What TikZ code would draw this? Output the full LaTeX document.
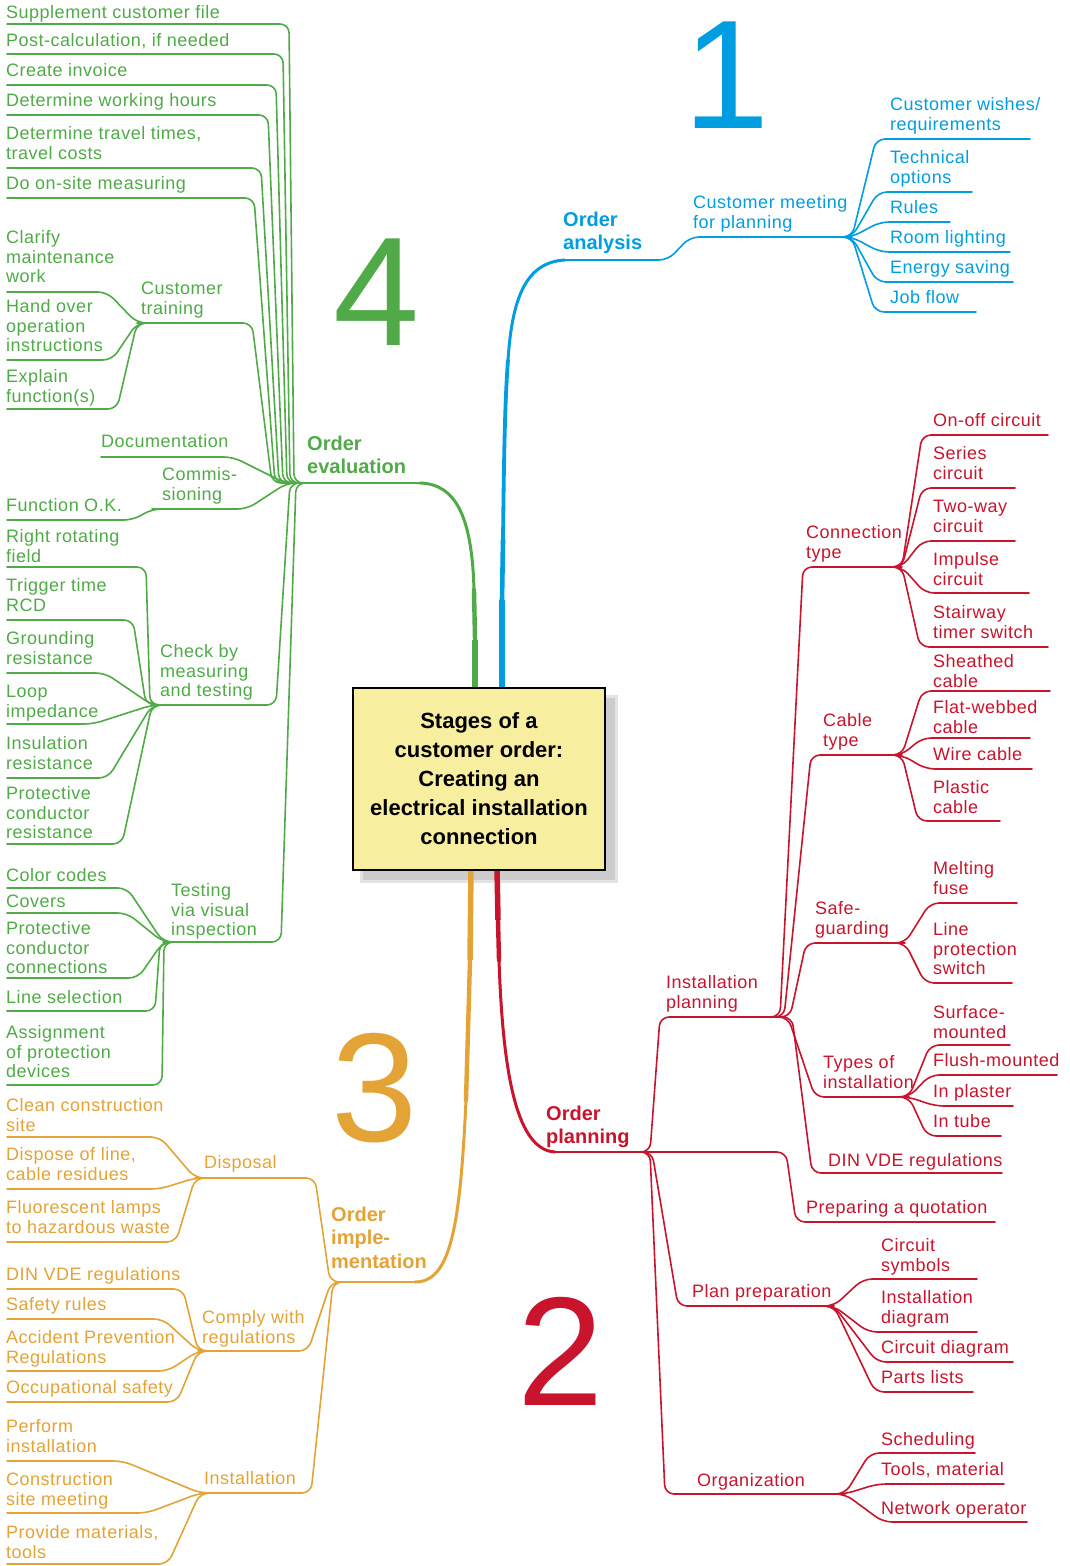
\documentclass[tikz,border=0pt]{standalone}
\usepackage{fontspec}
\setmainfont{Liberation Sans}
\newfontfamily\lblf[LetterSpace=2.8]{Liberation Sans}
\usetikzlibrary{calc}
\definecolor{cB}{RGB}{0,158,224}
\definecolor{cG}{RGB}{80,170,72}
\definecolor{cO}{RGB}{228,163,55}
\definecolor{cR}{RGB}{200,20,45}
\definecolor{cY}{RGB}{248,238,160}
\tikzset{
 lbl/.style={anchor=north west, inner sep=0pt, align=left, font=\lblf\fontsize{18}{19.5}\selectfont},
 blbl/.style={anchor=north west, inner sep=0pt, align=left, font=\bfseries\fontsize{20}{23.5}\selectfont},
 br/.style={line width=1.6pt, rounded corners=9pt, line join=round, line cap=round},
 big/.style={anchor=base west, inner sep=0pt, font=\fontsize{155}{155}\selectfont},
}
\newcommand\lab[5]{\node[lbl,text=#1] (#2) at (#3,#4-7.5) {\rule{0pt}{14pt}#5};}
\newcommand\blab[5]{\node[blbl,text=#1] (#2) at (#3,#4-8.8) {\rule{0pt}{16pt}#5};}
\begin{document}
\begin{tikzpicture}[x=1pt,y=-1pt]
\useasboundingbox (0,0) rectangle (1069,1566);
\fill[white] (0,0) rectangle (1069,1566);

% ---------- big numbers
\node[big,text=cB] (n1) at (683,128) {1};
\node[big,text=cG] (n4) at (333,345) {4};
\node[big,text=cO] (n3) at (331,1141) {3};
\node[big,text=cR] (n2) at (517,1405) {2};

% ---------- junction coordinates
\coordinate (Jb) at (852,237);
\coordinate (Jg) at (300,483);
\coordinate (Jct) at (137,323);
\coordinate (Jcom) at (152,509);
\coordinate (Jcm) at (152,705);
\coordinate (Jtv) at (163,942);
\coordinate (Jo) at (335,1282);
\coordinate (Jd) at (195,1178);
\coordinate (Jcr) at (198,1351);
\coordinate (Jin) at (200,1493);
\coordinate (Jr) at (646,1152);
\coordinate (Jip) at (776,1017);
\coordinate (Jconn) at (902,567);
\coordinate (Jcab) at (902,755);
\coordinate (Jsg) at (905,943);
\coordinate (Jti) at (909,1097);
\coordinate (Jpp) at (834,1306);
\coordinate (Jorg) at (845,1494);

% ---------- shadow of the hub
\fill[gray!22] (360,695) rectangle (618,883);
\fill[gray!40] (363,698) rectangle (615,880);

% ---------- trunks
% blue
\draw[cB,line width=5.5pt] (502,690) -- (502,600);
\draw[cB,line width=4.6pt,line cap=round] (502,600) -- (503,540);
\draw[cB,line width=3.8pt,line cap=round] (503,540) .. controls (504,450) and (505,400) .. (508,360);
\draw[cB,line width=3pt,line cap=round] (508,360) .. controls (512,300) and (525,262) .. (565,260);
\draw[cB,br] (560,260) -- (668,260) -- (690,237) -- (Jb);
% green
\draw[cG,line width=5.5pt] (475,690) -- (475,640);
\draw[cG,line width=4.4pt,line cap=round] (475,640) -- (474,590);
\draw[cG,line width=3pt,line cap=round] (474,590) .. controls (472,515) and (455,484) .. (420,483);
\draw[cG,br] (422,483) -- (Jg);
% orange
\draw[cO,line width=5.5pt] (471,868) -- (470,960);
\draw[cO,line width=4.4pt,line cap=round] (470,960) -- (466,1100);
\draw[cO,line width=3pt,line cap=round] (466,1100) .. controls (460,1230) and (450,1282) .. (415,1282);
\draw[cO,br] (417,1282) -- (Jo);
% red
\draw[cR,line width=5.5pt] (497,868) -- (498,920);
\draw[cR,line width=4.4pt,line cap=round] (498,920) -- (499,960);
\draw[cR,line width=3pt,line cap=round] (499,960) .. controls (503,1080) and (518,1150) .. (555,1152);
\draw[cR,br] (553,1152) -- (Jr);

% ---------- hub
\node[draw=black, line width=1.2pt, fill=cY, minimum width=252pt, minimum height=182pt,
      inner sep=0pt, align=center, font=\bfseries\fontsize{22}{29}\selectfont] (hub) at (479,779)
      {Stages of a\\customer order:\\Creating an\\electrical installation\\connection};

% ================= BLUE =================
\blab{cB}{bmain}{563}{219}{Order\\analysis}
\lab{cB}{bmeet}{693}{202}{Customer meeting\\for planning}
\lab{cB}{b1}{890}{104}{Customer wishes/\\requirements}
\lab{cB}{b2}{890}{157}{Technical\\options}
\lab{cB}{b3}{890}{207}{Rules}
\lab{cB}{b4}{890}{237}{Room lighting}
\lab{cB}{b5}{890}{267}{Energy saving}
\lab{cB}{b6}{890}{297}{Job flow}
\draw[cB,br] ($(Jb)+(-18,0)$) -- (Jb) -- (876,139) -- (1030,139);
\draw[cB,br] ($(Jb)+(-18,0)$) -- (Jb) -- (878,192) -- (972,192);
\draw[cB,br] ($(Jb)+(-18,0)$) -- (Jb) -- (880,222) -- (950,222);
\draw[cB,br] ($(Jb)+(-18,0)$) -- (Jb) -- (880,252) -- (1010,252);
\draw[cB,br] ($(Jb)+(-18,0)$) -- (Jb) -- (877,282) -- (1013,282);
\draw[cB,br] ($(Jb)+(-18,0)$) -- (Jb) -- (875,312) -- (976,312);

% ================= GREEN =================
\blab{cG}{gmain}{307}{443}{Order\\evaluation}
\lab{cG}{g1}{6}{12}{Supplement customer file}
\lab{cG}{g2}{6}{40}{Post-calculation, if needed}
\lab{cG}{g3}{6}{70}{Create invoice}
\lab{cG}{g4}{6}{100}{Determine working hours}
\lab{cG}{g5}{6}{133}{Determine travel times,\\travel costs}
\lab{cG}{g6}{6}{183}{Do on-site measuring}
\lab{cG}{g7}{6}{237}{Clarify\\maintenance\\work}
\lab{cG}{g8}{6}{306}{Hand over\\operation\\instructions}
\lab{cG}{g9}{6}{376}{Explain\\function(s)}
\lab{cG}{gct}{141}{288}{Customer\\training}
\lab{cG}{gdoc}{101}{441}{Documentation}
\lab{cG}{gcom}{162}{474}{Commis-\\sioning}
\lab{cG}{g10}{6}{505}{Function O.K.}
\lab{cG}{g11}{6}{536}{Right rotating\\field}
\lab{cG}{g12}{6}{585}{Trigger time\\RCD}
\lab{cG}{g13}{6}{638}{Grounding\\resistance}
\lab{cG}{g14}{6}{691}{Loop\\impedance}
\lab{cG}{g15}{6}{743}{Insulation\\resistance}
\lab{cG}{g16}{6}{793}{Protective\\conductor\\resistance}
\lab{cG}{gcm}{160}{651}{Check by\\measuring\\and testing}
\lab{cG}{g17}{6}{875}{Color codes}
\lab{cG}{g18}{6}{901}{Covers}
\lab{cG}{g19}{6}{928}{Protective\\conductor\\connections}
\lab{cG}{g20}{6}{997}{Line selection}
\lab{cG}{g21}{6}{1032}{Assignment\\of protection\\devices}
\lab{cG}{gtv}{171}{890}{Testing\\via visual\\inspection}
% bundle into Order evaluation
\draw[cG,br] (7,24) -- (289,24) -- (294,483) -- ($(Jg)+(18,0)$);
\draw[cG,br] (7,54) -- (283,54) -- (290,483) -- ($(Jg)+(18,0)$);
\draw[cG,br] (7,85) -- (276,85) -- (287,483) -- ($(Jg)+(18,0)$);
\draw[cG,br] (7,115) -- (268,115) -- (283,483) -- ($(Jg)+(18,0)$);
\draw[cG,br] (7,168) -- (261,168) -- (279,483) -- ($(Jg)+(18,0)$);
\draw[cG,br] (7,198) -- (254,198) -- (275,483) -- ($(Jg)+(18,0)$);
\draw[cG,br] (Jct) -- (252,323) -- (272,483) -- ($(Jg)+(18,0)$);
\draw[cG,br] (101,457) -- (233,457) -- (285,483) -- ($(Jg)+(18,0)$);
\draw[cG,br] ($(Jg)+(18,0)$) -- (287,483) -- (247,509) -- (Jcom);
\draw[cG,br] ($(Jg)+(18,0)$) -- (290,483) -- (276,705) -- (Jcm);
\draw[cG,br] ($(Jg)+(18,0)$) -- (296,483) -- (281,942) -- (Jtv);
% customer training leaves
\draw[cG,br] (7,292) -- (107,292) -- (Jct) -- ++(18,0);
\draw[cG,br] (7,360) -- (112,360) -- (Jct) -- ++(18,0);
\draw[cG,br] (7,409) -- (117,409) -- (Jct) -- ++(18,0);
% commissioning leaf
\draw[cG,br] (7,520) -- (133,520) -- (Jcom) -- ++(20,0);
% check by measuring leaves
\draw[cG,br] (7,567) -- (146,567) -- (150,705) -- ($(Jcm)+(18,0)$);
\draw[cG,br] (7,620) -- (133,620) -- (146,705) -- ($(Jcm)+(18,0)$);
\draw[cG,br] (7,673) -- (105,673) -- (Jcm) -- ++(18,0);
\draw[cG,br] (7,724) -- (93,724) -- (Jcm) -- ++(18,0);
\draw[cG,br] (7,778) -- (108,778) -- (Jcm) -- ++(18,0);
\draw[cG,br] (7,844) -- (122,844) -- (Jcm) -- ++(18,0);
% testing via visual leaves
\draw[cG,br] (7,888) -- (127,888) -- (Jtv) -- ++(18,0);
\draw[cG,br] (7,913) -- (127,913) -- (Jtv) -- ++(18,0);
\draw[cG,br] (7,978) -- (138,978) -- (Jtv) -- ++(18,0);
\draw[cG,br] (7,1011) -- (155,1011) -- (160,942) -- ($(Jtv)+(18,0)$);
\draw[cG,br] (7,1085) -- (162,1085) -- (164,942) -- ($(Jtv)+(18,0)$);

% ================= ORANGE =================
\blab{cO}{omain}{331}{1214}{Order\\imple-\\mentation}
\lab{cO}{o1}{6}{1105}{Clean construction\\site}
\lab{cO}{o2}{6}{1154}{Dispose of line,\\cable residues}
\lab{cO}{o3}{6}{1207}{Fluorescent lamps\\to hazardous waste}
\lab{cO}{odis}{204}{1162}{Disposal}
\lab{cO}{o4}{6}{1274}{DIN VDE regulations}
\lab{cO}{o5}{6}{1304}{Safety rules}
\lab{cO}{o6}{6}{1337}{Accident Prevention\\Regulations}
\lab{cO}{o7}{6}{1387}{Occupational safety}
\lab{cO}{ocr}{202}{1317}{Comply with\\regulations}
\lab{cO}{o8}{6}{1426}{Perform\\installation}
\lab{cO}{o9}{6}{1479}{Construction\\site meeting}
\lab{cO}{o10}{6}{1532}{Provide materials,\\tools}
\lab{cO}{oin}{204}{1478}{Installation}
\draw[cO,br] ($(Jo)+(15,0)$) -- (330,1282) -- (315,1178) -- (Jd);
\draw[cO,br] ($(Jo)+(15,0)$) -- (331,1282) -- (308,1351) -- (Jcr);
\draw[cO,br] ($(Jo)+(15,0)$) -- (333,1282) -- (311,1493) -- (Jin);
\draw[cO,br] (7,1137) -- (160,1137) -- (Jd) -- ++(18,0);
\draw[cO,br] (7,1189) -- (160,1189) -- (Jd) -- ++(18,0);
\draw[cO,br] (7,1242) -- (176,1242) -- (Jd) -- ++(18,0);
\draw[cO,br] (7,1289) -- (183,1289) -- (Jcr) -- ++(18,0);
\draw[cO,br] (7,1319) -- (163,1319) -- (Jcr) -- ++(18,0);
\draw[cO,br] (7,1371) -- (168,1371) -- (Jcr) -- ++(18,0);
\draw[cO,br] (7,1402) -- (177,1402) -- (Jcr) -- ++(18,0);
\draw[cO,br] (7,1461) -- (123,1461) -- (Jin) -- ++(18,0);
\draw[cO,br] (7,1513) -- (147,1513) -- (Jin) -- ++(18,0);
\draw[cO,br] (7,1564) -- (168,1564) -- (Jin) -- ++(18,0);

% ================= RED =================
\blab{cR}{rmain}{546}{1113}{Order\\planning}
\lab{cR}{rip}{666}{982}{Installation\\planning}
\lab{cR}{rpq}{806}{1207}{Preparing a quotation}
\lab{cR}{rpp}{692}{1291}{Plan preparation}
\lab{cR}{rorg}{697}{1480}{Organization}
\lab{cR}{rconn}{806}{532}{Connection\\type}
\lab{cR}{rcab}{823}{720}{Cable\\type}
\lab{cR}{rsg}{815}{908}{Safe-\\guarding}
\lab{cR}{rti}{823}{1062}{Types of\\installation}
\lab{cR}{rdin}{828}{1160}{DIN VDE regulations}
\lab{cR}{r1}{933}{420}{On-off circuit}
\lab{cR}{r2}{933}{453}{Series\\circuit}
\lab{cR}{r3}{933}{506}{Two-way\\circuit}
\lab{cR}{r4}{933}{559}{Impulse\\circuit}
\lab{cR}{r5}{933}{612}{Stairway\\timer switch}
\lab{cR}{r6}{933}{661}{Sheathed\\cable}
\lab{cR}{r7}{933}{707}{Flat-webbed\\cable}
\lab{cR}{r8}{933}{754}{Wire cable}
\lab{cR}{r9}{933}{787}{Plastic\\cable}
\lab{cR}{r10}{933}{868}{Melting\\fuse}
\lab{cR}{r11}{933}{929}{Line\\protection\\switch}
\lab{cR}{r12}{933}{1012}{Surface-\\mounted}
\lab{cR}{r13}{933}{1060}{Flush-mounted}
\lab{cR}{r14}{933}{1091}{In plaster}
\lab{cR}{r15}{933}{1121}{In tube}
\lab{cR}{r16}{881}{1245}{Circuit\\symbols}
\lab{cR}{r17}{881}{1297}{Installation\\diagram}
\lab{cR}{r18}{881}{1347}{Circuit diagram}
\lab{cR}{r19}{881}{1377}{Parts lists}
\lab{cR}{r20}{881}{1439}{Scheduling}
\lab{cR}{r21}{881}{1469}{Tools, material}
\lab{cR}{r22}{881}{1508}{Network operator}
% main red branches
\draw[cR,br] ($(Jr)+(-18,0)$) -- (650,1152) -- (660,1017) -- (Jip);
\draw[cR,br] ($(Jr)+(-18,0)$) -- (786,1152) -- (796,1222) -- (995,1222);
\draw[cR,br] ($(Jr)+(-18,0)$) -- (652,1152) -- (678,1306) -- (Jpp);
\draw[cR,br] ($(Jr)+(-18,0)$) -- (650,1152) -- (665,1494) -- (Jorg);
% installation planning branches
\draw[cR,br] ($(Jip)+(-18,0)$) -- (780,1017) -- (803,567) -- (Jconn);
\draw[cR,br] ($(Jip)+(-18,0)$) -- (784,1017) -- (811,755) -- (Jcab);
\draw[cR,br] ($(Jip)+(-18,0)$) -- (790,1017) -- (806,943) -- (Jsg);
\draw[cR,br] ($(Jip)+(-18,0)$) -- (788,1017) -- (815,1097) -- (Jti);
\draw[cR,br] ($(Jip)+(-18,0)$) -- (792,1017) -- (812,1173) -- (1002,1173);
% connection type leaves
\draw[cR,br] ($(Jconn)+(-18,0)$) -- (Jconn) -- (922,435) -- (1048,435);
\draw[cR,br] ($(Jconn)+(-18,0)$) -- (Jconn) -- (922,488) -- (1015,488);
\draw[cR,br] ($(Jconn)+(-18,0)$) -- (Jconn) -- (922,541) -- (1015,541);
\draw[cR,br] ($(Jconn)+(-18,0)$) -- (Jconn) -- (925,593) -- (1029,593);
\draw[cR,br] ($(Jconn)+(-18,0)$) -- (Jconn) -- (920,647) -- (1048,647);
% cable type leaves
\draw[cR,br] ($(Jcab)+(-18,0)$) -- (Jcab) -- (922,691) -- (1050,691);
\draw[cR,br] ($(Jcab)+(-18,0)$) -- (Jcab) -- (922,738) -- (1030,738);
\draw[cR,br] ($(Jcab)+(-18,0)$) -- (Jcab) -- (926,769) -- (1032,769);
\draw[cR,br] ($(Jcab)+(-18,0)$) -- (Jcab) -- (918,821) -- (1000,821);
% safe-guarding leaves
\draw[cR,br] ($(Jsg)+(-18,0)$) -- (Jsg) -- (930,903) -- (1017,903);
\draw[cR,br] ($(Jsg)+(-18,0)$) -- (Jsg) -- (925,983) -- (1012,983);
% types of installation leaves
\draw[cR,br] ($(Jti)+(-18,0)$) -- (Jti) -- (930,1045) -- (1010,1045);
\draw[cR,br] ($(Jti)+(-18,0)$) -- (Jti) -- (930,1075) -- (1057,1075);
\draw[cR,br] ($(Jti)+(-18,0)$) -- (Jti) -- (935,1106) -- (1013,1106);
\draw[cR,br] ($(Jti)+(-18,0)$) -- (Jti) -- (927,1136) -- (1001,1136);
% plan preparation leaves
\draw[cR,br] ($(Jpp)+(-18,0)$) -- (Jpp) -- (863,1279) -- (977,1279);
\draw[cR,br] ($(Jpp)+(-18,0)$) -- (Jpp) -- (868,1332) -- (977,1332);
\draw[cR,br] ($(Jpp)+(-18,0)$) -- (Jpp) -- (877,1362) -- (1013,1362);
\draw[cR,br] ($(Jpp)+(-18,0)$) -- (Jpp) -- (875,1392) -- (973,1392);
% organization leaves
\draw[cR,br] ($(Jorg)+(-18,0)$) -- (Jorg) -- (870,1453) -- (975,1453);
\draw[cR,br] ($(Jorg)+(-18,0)$) -- (Jorg) -- (877,1484) -- (1004,1484);
\draw[cR,br] ($(Jorg)+(-18,0)$) -- (Jorg) -- (883,1522) -- (1027,1522);
\end{tikzpicture}
\end{document}
